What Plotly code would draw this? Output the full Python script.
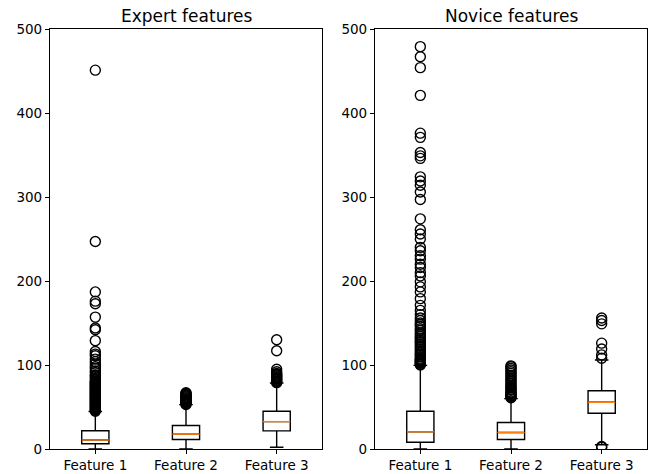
import plotly.graph_objects as go
from plotly.subplots import make_subplots

features = ["Feature 1", "Feature 2", "Feature 3"]
positions = [1, 2, 3]

# Expert box stats
expert_q1 = [6.3, 11.3, 21.6]
expert_median = [10.7, 17.6, 32.6]
expert_q3 = [21.7, 27.9, 44.9]
expert_low = [0, 0, 2]
expert_high = [44.7, 52.8, 78.6]
expert_out_f1 = [45, 46, 47, 48, 49, 50, 51, 52, 53, 54, 55, 56, 57, 58, 59, 60, 61, 62, 63, 64,
                 65, 66, 67, 68, 69, 70, 71, 72, 73, 74, 75, 76, 77, 78, 79, 80, 81, 83, 85, 87,
                 88, 91, 93, 96, 98, 101, 104, 107, 111, 113, 116, 129, 142, 144, 157, 173, 176,
                 187, 247, 451]
expert_out_f2 = [53, 54, 55, 56, 56.5, 57, 58, 59, 60, 61, 62, 63, 64, 65, 66, 67]
expert_out_f3 = [79, 80, 81, 82, 83, 84, 85, 86, 87, 88, 89, 90, 92, 95, 117, 130]

# Novice box stats
novice_q1 = [8.1, 11.3, 42.5]
novice_median = [20.4, 19.6, 55.6]
novice_q3 = [44.9, 31.5, 69.4]
novice_low = [0, 0, 5]
novice_high = [99.5, 60, 106]
novice_out_f1 = [100, 101, 102, 103, 104, 105, 106, 107, 108, 110, 112, 113, 115, 117, 119, 121,
                 123, 125, 127, 128, 130, 132, 134, 136, 138, 141, 143, 146, 148, 150, 153, 156,
                 160, 165, 171, 179, 187, 193, 199, 206, 210, 216, 220, 226, 230, 236, 240, 250,
                 256, 261, 274, 297, 306, 314, 319, 324, 346, 349, 353, 371, 376, 421, 454, 467,
                 479]
novice_out_f2 = [61, 62, 63, 64, 65, 66, 67, 68, 70, 71, 73, 74, 76, 78, 80, 82, 84, 86, 88, 90,
                 92, 94, 96, 98, 99]
novice_out_f3 = [2, 3, 108, 112, 119, 126, 149, 153, 156]

y_ticks = [0, 100, 200, 300, 400, 500]
box_width = 0.3

W, H = 657, 474
ml, mr, mt, mb = 50, 10, 29, 25
pw = W - ml - mr

fig = make_subplots(rows=1, cols=2, subplot_titles=["Expert features", "Novice features"])

groups = [
    (1, expert_q1, expert_median, expert_q3, expert_low, expert_high,
     [expert_out_f1, expert_out_f2, expert_out_f3]),
    (2, novice_q1, novice_median, novice_q3, novice_low, novice_high,
     [novice_out_f1, novice_out_f2, novice_out_f3]),
]

for col, q1, med, q3, lo, hi, outs in groups:
    fig.add_trace(go.Box(
        x=positions, q1=q1, median=med, q3=q3, lowerfence=lo, upperfence=hi,
        width=box_width, whiskerwidth=0.5, fillcolor="rgba(0,0,0,0)",
        line=dict(color="black", width=1.4), boxpoints=False, showlegend=False,
        hoverinfo="skip"), row=1, col=col)
    for p, m in zip(positions, med):
        fig.add_trace(go.Scatter(
            x=[p - box_width / 2, p + box_width / 2], y=[m, m], mode="lines",
            line=dict(color="#ff7f0e", width=1.4), showlegend=False, hoverinfo="skip"),
            row=1, col=col)
    for p, o in zip(positions, outs):
        fig.add_trace(go.Scatter(
            x=[p] * len(o), y=o, mode="markers",
            marker=dict(symbol="circle-open", size=10, color="black", line=dict(width=1.4)),
            showlegend=False, hoverinfo="skip"), row=1, col=col)

axis_common = dict(showline=True, linecolor="black", linewidth=1.2, mirror=True,
                   ticks="outside", ticklen=4, tickcolor="black", tickwidth=1.2,
                   showgrid=False, zeroline=False, automargin=False,
                   tickfont=dict(family="DejaVu Sans", size=13.5, color="black"))
for c in (1, 2):
    fig.update_xaxes(range=[0.5, 3.5], tickvals=positions, ticktext=features,
                     **axis_common, row=1, col=c)
    fig.update_yaxes(range=[0, 500], tickvals=y_ticks, **axis_common, row=1, col=c)

fig.update_layout(xaxis=dict(domain=[0, (322 - ml) / pw]),
                  xaxis2=dict(domain=[(375 - ml) / pw, 1.0]))

for ann in fig.layout.annotations:
    ann.font = dict(family="DejaVu Sans", size=17, color="black")
    ann.yshift = 1
fig.layout.annotations[0].x = (322 - ml) / pw / 2
fig.layout.annotations[1].x = ((375 - ml) / pw + 1.0) / 2

fig.update_layout(width=W, height=H, margin=dict(l=ml, r=mr, t=mt, b=mb, autoexpand=False),
                  plot_bgcolor="white", paper_bgcolor="white",
                  font=dict(family="DejaVu Sans", color="black"))
fig.write_html("out.html")
